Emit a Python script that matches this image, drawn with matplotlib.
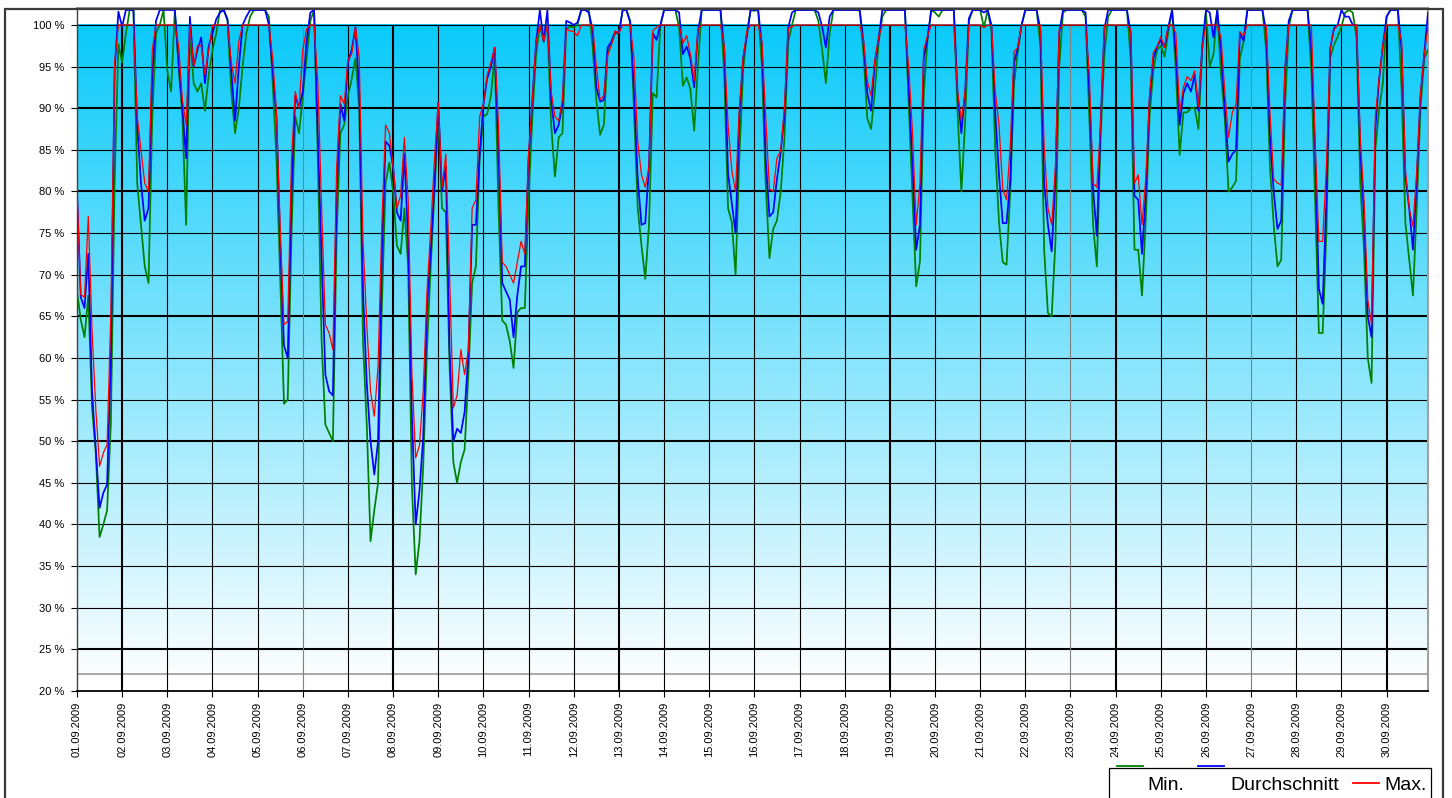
import numpy as np
import pandas as pd
import matplotlib
matplotlib.use("Agg")
import matplotlib.pyplot as plt
import matplotlib.dates as mdates
from matplotlib.patches import Rectangle
from matplotlib.lines import Line2D
from matplotlib.ticker import FixedLocator, FuncFormatter

plt.rcParams['font.family'] = ['Liberation Sans', 'DejaVu Sans']

# ---------------- data (2-hourly samples, one day per row) ----------------
start_date = '2009-09-01'
min_values = [
    68, 64.6, 62.5, 67.5, 54, 48.5, 38.5, 40, 41.7, 52.2, 81.3, 97.7,
    95.5, 99, 101.8, 101.8, 81, 76, 71, 69, 89, 99, 100, 101.8,
    94.5, 92, 101.8, 95, 89, 76, 99, 93, 92, 93, 89.7, 94,
    97, 99, 101.8, 101.8, 100.5, 92, 87, 90, 95, 99, 101, 101.8,
    101.8, 101.8, 101.8, 101, 93, 84, 69.6, 54.5, 55, 75, 89, 87,
    91.5, 96, 100.5, 101.8, 84, 62, 52, 51, 50, 75, 87, 88,
    91.5, 93.5, 96, 90, 62, 52, 38, 41.7, 45, 66, 81, 83.5,
    80, 73.5, 72.5, 78, 71, 44.5, 34, 38, 47, 61, 71, 80,
    89, 78, 77.5, 59, 47.5, 45, 47.5, 49, 58, 69, 71, 84,
    89, 89.3, 91.5, 96.5, 78, 64.5, 64, 62, 58.8, 65.5, 66, 66,
    79, 89, 96.5, 100, 98, 100, 88, 81.8, 86.5, 87, 99.5, 99.8,
    99.7, 100, 101.8, 101.8, 101.8, 97.5, 91, 86.8, 88, 96.7, 97.7, 99,
    99, 101.8, 101.8, 100.5, 90, 78, 73.5, 69.5, 76, 91.8, 91.3, 99.8,
    101.8, 101.8, 101.8, 101.8, 99.7, 92.7, 93.7, 92.3, 87.3, 95, 101.8, 101.8,
    101.8, 101.8, 101.8, 101.8, 94, 78, 76.3, 70, 84, 94.5, 99, 101.8,
    101.7, 101.8, 95, 81, 72, 75.5, 76.5, 80, 86.5, 98, 100, 101.8,
    101.8, 101.8, 101.8, 101.8, 101.8, 100.5, 97, 93, 99, 101.8, 101.8, 101.8,
    101.8, 101.8, 101.8, 101.8, 101.7, 96.5, 88.8, 87.5, 92, 97.8, 101, 101.8,
    101.8, 101.8, 101.8, 101.8, 101.8, 90.5, 79.5, 68.6, 71.6, 91.8, 98.2, 101.8,
    101.5, 101, 101.8, 101.8, 101.8, 101.8, 89.5, 80, 88.3, 100.5, 101.8, 101.8,
    101.8, 99.7, 101.8, 99.2, 85, 76.3, 71.5, 71.2, 80, 93, 96.8, 100,
    101.8, 101.8, 101.8, 101.8, 97.5, 73, 65.4, 65, 74, 95, 101.5, 101.8,
    101.8, 101.8, 101.8, 101.8, 101, 89, 76, 71, 86.5, 96.5, 101, 101.8,
    101.8, 101.8, 101.8, 101.8, 96, 73, 73, 67.5, 76.5, 89, 94.5, 97,
    97.5, 96.2, 99.2, 101.8, 94.5, 84.4, 89.5, 89.5, 90, 90, 87.5, 97,
    101.5, 95, 96.5, 101.8, 94, 88.8, 80, 80.5, 81.3, 96, 98, 101.8,
    101.8, 101.8, 101.8, 101.8, 97.1, 83, 76, 71, 71.8, 90, 99.8, 101.8,
    101.8, 101.8, 101.8, 101.8, 94.5, 79, 63, 63, 75, 96, 97.6, 98.6,
    99.8, 101.5, 101.8, 101.5, 98.5, 81, 73, 60, 57, 85, 89.8, 93,
    101, 101.8, 101.8, 101.8, 92, 76.2, 71.8, 67.5, 78, 90, 96, 97,
]
avg_values = [
    80, 67.3, 66, 72.5, 56, 49, 42, 43.8, 44.8, 60, 94.5, 101.6,
    99.8, 101.8, 101.8, 101.8, 88, 81, 76.5, 78, 94, 100.5, 101.8, 101.8,
    101.8, 101.8, 101.8, 95.5, 90, 84, 101, 95, 97, 98.5, 93, 97.5,
    99, 100.7, 101.5, 101.8, 100.7, 94.5, 88.5, 95, 100, 101, 101.8, 101.8,
    101.8, 101.8, 101.8, 100, 94.5, 89, 73.9, 61.5, 60, 80, 91.5, 90,
    92, 98, 101.5, 101.8, 86.5, 72, 58, 56, 55.5, 80, 90.5, 88.5,
    95.5, 97, 99.7, 92, 68, 57, 50, 46, 50, 72, 86, 85.5,
    83, 77.5, 76.5, 84.5, 74, 53, 40, 44, 50.5, 66, 73, 81,
    90.7, 80, 83, 61, 50, 51.5, 51, 53.5, 60.5, 76, 76, 84.5,
    90.5, 93.6, 95, 97.3, 85, 69, 68, 67, 62.5, 67.5, 71, 71,
    84, 91, 98, 101.8, 98, 101.8, 91, 87, 88, 90.5, 100.5, 100.3,
    100, 100.3, 101.8, 101.8, 101.5, 99.5, 92.5, 90.8, 91, 97.3, 98, 99.2,
    99, 101.8, 101.8, 100.3, 92, 81.5, 76, 76.2, 83, 99, 98.2, 100,
    101.8, 101.8, 101.8, 101.8, 101.5, 96.5, 97.4, 96, 92.5, 99.2, 101.8, 101.8,
    101.8, 101.8, 101.8, 101.8, 97, 82.2, 78.6, 75, 89, 96, 98.7, 101.8,
    101.8, 101.8, 97.5, 84, 77, 77.5, 81.5, 84.7, 89.3, 99.7, 101.5, 101.8,
    101.8, 101.8, 101.8, 101.8, 101.8, 101.5, 99.8, 97.3, 101, 101.8, 101.8, 101.8,
    101.8, 101.8, 101.8, 101.8, 101.8, 97.9, 91.8, 89.7, 95.5, 98.3, 101.8, 101.8,
    101.8, 101.8, 101.8, 101.8, 101.8, 92.5, 83.3, 73, 76, 96, 98.4, 101.8,
    101.8, 101.8, 101.8, 101.8, 101.8, 101.8, 91.8, 87, 92, 100.8, 101.8, 101.8,
    101.8, 101.5, 101.8, 100, 89.5, 82, 76.2, 76.2, 81.3, 95.5, 97.2, 100,
    101.8, 101.8, 101.8, 101.8, 99.5, 81, 76, 72.8, 81.5, 99, 101.8, 101.8,
    101.8, 101.8, 101.8, 101.8, 101.5, 92, 80.3, 74.7, 88, 99.5, 101.8, 101.8,
    101.8, 101.8, 101.8, 101.8, 99, 79.5, 79, 72.5, 79.6, 91, 96, 97.4,
    98.2, 97.3, 99.8, 101.8, 96.5, 88, 91.8, 93, 92, 94, 89.7, 97.4,
    101.8, 101.5, 98.5, 101.8, 97, 90, 83.6, 84.5, 85, 99, 98.1, 101.8,
    101.8, 101.8, 101.8, 101.8, 99.2, 86.5, 80, 75.5, 76.5, 94.5, 100.5, 101.8,
    101.8, 101.8, 101.8, 101.8, 97.1, 85, 68.3, 66.5, 79, 97.1, 99.6, 100,
    101.8, 101, 101, 100, 100, 85, 77, 65, 62.5, 87.5, 93.4, 97.5,
    101, 101.8, 101.8, 101.8, 97, 81.8, 78, 73, 81.3, 91.5, 96.5, 101.5,
]
max_values = [
    80, 67.6, 67.3, 77, 63.3, 53.8, 47, 48.6, 49.6, 65.4, 95.5, 100,
    100, 100, 100, 100, 89, 85, 81, 80, 97, 100, 100, 100,
    100, 100, 100, 97.5, 91, 88, 100, 95, 97.5, 97.5, 94, 97,
    100, 100, 100, 100, 100, 95.5, 93, 98, 100, 100, 100, 100,
    100, 100, 100, 100, 96, 89.5, 75.5, 64, 64.4, 84, 92, 90,
    97, 99.5, 100, 100, 93, 78, 64, 63, 61, 83, 91.5, 90.5,
    95.8, 96.5, 99.8, 96, 74, 64, 56, 53, 59, 76, 88, 87,
    83, 78, 79.5, 86.5, 79, 58, 48, 49.5, 56, 68, 75.5, 84,
    90.7, 80.5, 84.5, 70, 54, 55.5, 61, 58, 61, 78, 79, 89,
    90.5, 94, 95.5, 97.3, 88, 71.5, 71, 70, 69, 71.5, 74, 72.5,
    84.5, 91, 98, 100, 98, 100, 92, 89, 88.5, 91, 99.5, 99.3,
    99.2, 98.7, 100, 100, 100, 100, 95, 91, 91.5, 96.3, 97.6, 99.3,
    99, 100, 100, 100, 96, 86, 82, 80.5, 83, 99.3, 99.7, 100,
    100, 100, 100, 100, 100, 97.8, 98.7, 96.5, 93.3, 99.5, 100, 100,
    100, 100, 100, 100, 97.5, 88, 82.5, 80, 90, 96, 99.2, 100,
    100, 100, 98, 89, 80.3, 80, 84, 84.9, 90.2, 99.6, 99.8, 100,
    100, 100, 100, 100, 100, 100, 100, 100, 100, 100, 100, 100,
    100, 100, 100, 100, 100, 98.2, 93.3, 91.5, 95.7, 98.5, 100, 100,
    100, 100, 100, 100, 100, 95, 87.2, 76, 81, 97, 98.7, 100,
    100, 100, 100, 100, 100, 100, 92, 88.5, 92, 100, 100, 100,
    100, 99.7, 100, 100, 92, 88, 80.3, 79, 85.5, 96.8, 97.3, 100,
    100, 100, 100, 100, 100, 85.5, 78, 76, 83, 99.5, 100, 100,
    100, 100, 100, 100, 100, 94, 81, 80.5, 88, 100, 100, 100,
    100, 100, 100, 100, 99.5, 81, 82, 76, 81.5, 91.5, 96.7, 97.4,
    98.6, 97.3, 100, 100, 99, 89.5, 92.5, 93.8, 93.3, 94.5, 90.2, 97.4,
    100, 100, 100, 100, 98.5, 92, 86.5, 89.5, 90.5, 99.2, 98.7, 100,
    100, 100, 100, 100, 100, 89.5, 81.5, 81, 80.8, 94.8, 100, 100,
    100, 100, 100, 100, 100, 86, 74, 74, 83, 97.1, 99.4, 100,
    100, 100, 100, 100, 100, 86.5, 79, 67, 64, 89, 93.5, 97.6,
    100, 100, 100, 100, 98, 82.5, 78, 75.8, 82.3, 91.7, 96.5, 99.8,
]
series_labels = ['Min.', 'Durchschnitt', 'Max.']
y_ticks = list(range(20, 101, 5))
threshold_value = 22
n_days = 30

times = pd.date_range(start_date, periods=len(min_values), freq='2h')
day_ticks = pd.date_range(start_date, periods=n_days, freq='D')
x_tick_labels = [d.strftime('%d.%m.%Y') for d in day_ticks]

# ---------------- figure ----------------
W, H = 1452, 798
fig = plt.figure(figsize=(W / 100, H / 100), dpi=100)
fig.patch.set_facecolor('white')
ax = fig.add_axes([77 / W, 1 - 691 / H, (1428 - 77) / W, (691 - 8) / H])

x0 = mdates.date2num(times[0])
x1 = mdates.date2num(times[-1])
y_top = 102.04

# gradient area (100 % down to the threshold line)
top_rgb = np.array([10, 202, 250]) / 255.0
bot_rgb = np.array([252, 254, 255]) / 255.0
t = np.linspace(0, 1, 256)[:, None]
grad = (top_rgb[None, :] * (1 - t) + bot_rgb[None, :] * t)[:, None, :]
ax.imshow(grad, extent=[x0, x1, threshold_value, 100], aspect='auto', origin='upper',
          zorder=0, interpolation='bilinear')

# grid
thick_y = {90, 80, 65, 50, 25}
for yv in y_ticks[1:]:
    ax.axhline(yv, color='black', lw=1.5 if yv in thick_y else 0.8, zorder=1)
ax.axhline(threshold_value, color='#a0a0a0', lw=1.3, zorder=1)
thick_days = {1, 7, 12, 18, 23, 29}
gray_days = {5, 22, 26}
for i, d in enumerate(day_ticks[1:], start=1):
    xd = mdates.date2num(d)
    col = '#808080' if i in gray_days else 'black'
    ax.vlines(xd, 20, 100, color=col, lw=1.5 if i in thick_days else 0.8, zorder=1)

# series
ax.plot(times, min_values, color='#008000', lw=1.25, zorder=3, label=series_labels[0])
ax.plot(times, avg_values, color='#0000ff', lw=1.25, zorder=4, label=series_labels[1])
ax.plot(times, max_values, color='#ff0000', lw=0.9, zorder=5, label=series_labels[2])

ax.set_xlim(x0, x1)
ax.set_ylim(20, y_top)

ax.yaxis.set_major_locator(FixedLocator(y_ticks))
ax.yaxis.set_major_formatter(FuncFormatter(lambda v, p: f"{int(round(v))} %"))
ax.set_xticks(mdates.date2num(day_ticks))
ax.set_xticklabels(x_tick_labels, rotation=90, fontsize=8)
ax.tick_params(axis='y', labelsize=8, length=4, width=0.8, pad=5, direction='out')
ax.tick_params(axis='x', length=4, width=0.8, pad=3.5, direction='out')

for s in ('top', 'right'):
    ax.spines[s].set_color('#a0a0a0')
    ax.spines[s].set_linewidth(1.5)
ax.spines['left'].set_color('#404040')
ax.spines['left'].set_linewidth(1.0)
ax.spines['bottom'].set_color('black')
ax.spines['bottom'].set_linewidth(1.3)

# outer chart frame
fig.add_artist(Rectangle((5 / W, -0.02), (1443 - 5) / W, 1 - 9 / H + 0.02,
                         transform=fig.transFigure, fill=False,
                         edgecolor='#3a3a3a', lw=1.6, zorder=10))

# legend (Excel style)
fig.add_artist(Rectangle((1109 / W, -0.02), (1431 - 1109) / W, 1 - 768 / H + 0.02,
                         transform=fig.transFigure, facecolor='white',
                         edgecolor='black', lw=0.9, zorder=11))
leg_text_x = [1147, 1230, 1384]
leg_line_x = [(1117, 1143), (1198, 1224), (1353, 1379)]
leg_line_y = [766, 766, 783]
leg_colors = ['#008000', '#0000ff', '#ff0000']
for lab, tx, (la, lb), ly, c in zip(series_labels, leg_text_x, leg_line_x, leg_line_y, leg_colors):
    fig.text(tx / W, 1 - 790 / H, lab, fontsize=14, ha='left', va='baseline',
             color='black', zorder=12)
    fig.add_artist(Line2D([la / W, lb / W], [1 - ly / H, 1 - ly / H],
                          transform=fig.transFigure, color=c, lw=1.3, zorder=12))

fig.savefig('out.png', dpi=100)
